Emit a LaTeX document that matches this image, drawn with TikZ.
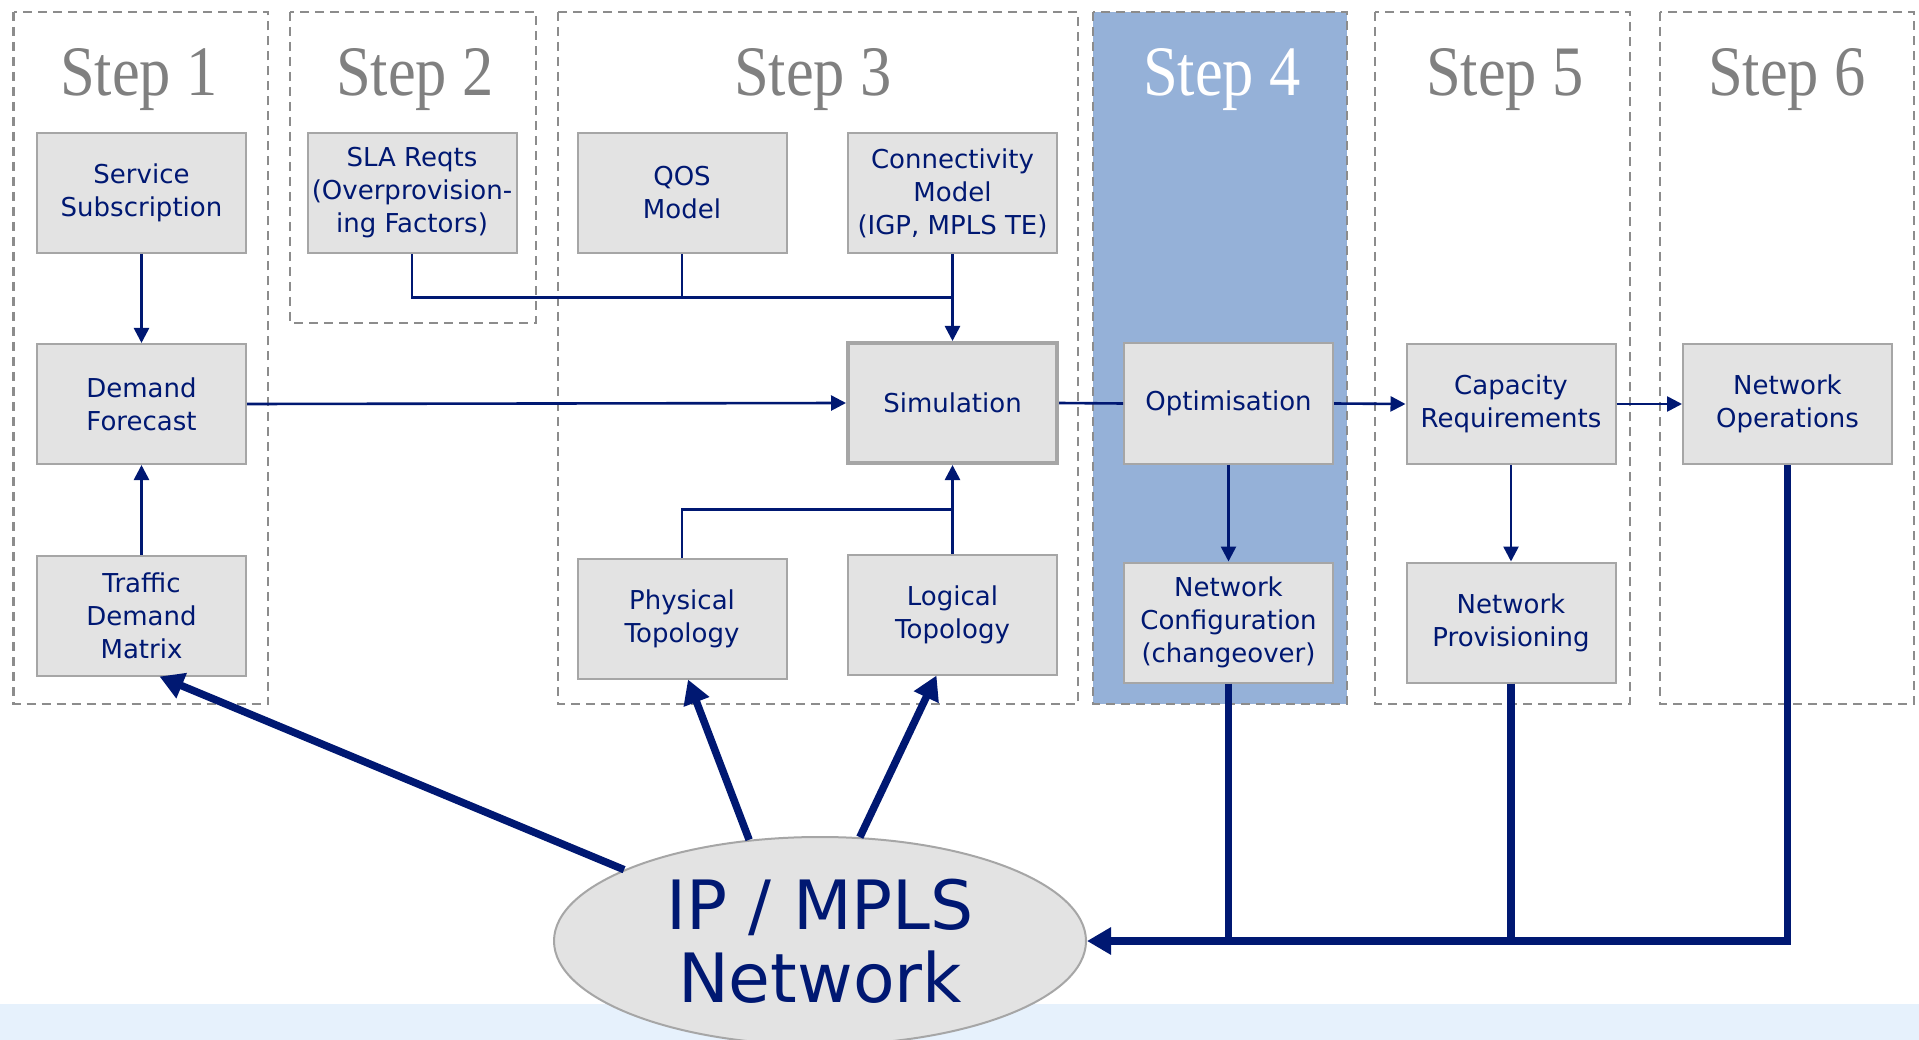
\documentclass[tikz,border=0pt]{standalone}
\usepackage{fontspec}
\usetikzlibrary{arrows.meta,calc,shapes.geometric}
\newfontfamily\boxfont{DejaVu Sans}
\newfontfamily\titlefont[FakeStretch=0.88]{Liberation Serif}
\definecolor{navy}{RGB}{0,24,114}
\definecolor{boxfill}{RGB}{227,227,227}
\definecolor{boxline}{RGB}{166,166,166}
\definecolor{dashgray}{RGB}{140,140,140}
\definecolor{titlegray}{RGB}{128,128,128}
\definecolor{stepblue}{RGB}{149,177,216}
\definecolor{bandblue}{RGB}{230,241,252}
\tikzset{
  procbox/.style={rectangle, draw=boxline, fill=boxfill, line width=2pt,
    minimum width=209pt, minimum height=120pt, inner sep=2pt, align=center,
    text=navy, font=\boxfont\fontsize{26}{33}\selectfont},
  stepframe/.style={draw=dashgray, line width=2.5pt, dash pattern=on 9pt off 6pt},
  steptitle/.style={anchor=base, text=titlegray, inner sep=0pt,
    font=\titlefont\fontsize{71}{76}\selectfont},
  thinline/.style={draw=navy, line width=2.6pt},
  thinarrow/.style={thinline, -{Triangle[length=15pt,width=15pt]}},
  thickline/.style={draw=navy, line width=7.5pt},
  thickarrow/.style={thickline, -{Triangle[length=24pt,width=26pt]}},
}
\begin{document}
\begin{tikzpicture}[x=1pt,y=-1pt]
\useasboundingbox (0,0) rectangle (1919,1040);
\fill[white] (0,0) rectangle (1919,1040);
% bottom band
\fill[bandblue] (0,1004) rectangle (1919,1040);
% step frames
\draw[stepframe] (13.5,12) rectangle (268,704);
\draw[stepframe] (290,12) rectangle (536,323);
\draw[stepframe] (558,12) rectangle (1078,704);
\draw[stepframe, fill=stepblue] (1093,12) rectangle (1347,704);
\draw[stepframe] (1375,12) rectangle (1630,704);
\draw[stepframe] (1660,12) rectangle (1914,704);
% titles
\node[steptitle] (t1) at (139,96) {Step 1};
\node[steptitle] (t2) at (415,96) {Step 2};
\node[steptitle] (t3) at (813,96) {Step 3};
\node[steptitle, text=white] (t4) at (1222,96) {Step 4};
\node[steptitle] (t5) at (1505,96) {Step 5};
\node[steptitle] (t6) at (1787,96) {Step 6};
% boxes
\node[procbox] (ss) at (141.5,193) {Service\\Subscription};
\node[procbox] (sla) at (412,193) {SLA Reqts\\(Overprovision-\\ing Factors)};
\node[procbox] (qos) at (682,193) {QOS\\Model};
\node[procbox] (conn) at (952.5,193) {Connectivity\\Model\\(IGP, MPLS TE)};
\node[procbox] (df) at (141.5,404) {Demand\\Forecast};
\node[procbox, line width=4pt] (sim) at (952.5,403) {Simulation};
\node[procbox] (opt) at (1228.5,403.5) {Optimisation};
\node[procbox] (cap) at (1511,404) {Capacity\\Requirements};
\node[procbox] (nops) at (1787.5,404) {Network\\Operations};
\node[procbox] (tdm) at (141.5,615.5) {Traffic\\Demand\\Matrix};
\node[procbox] (phy) at (682,618.5) {Physical\\Topology};
\node[procbox] (log) at (952.5,614.5) {Logical\\Topology};
\node[procbox] (ncfg) at (1228.5,622.5) {Network\\Configuration\\(changeover)};
\node[procbox] (nprov) at (1511,622.5) {Network\\Provisioning};
% ellipse
\node[ellipse, draw=boxline, fill=boxfill, line width=2pt, minimum width=532pt,
  minimum height=208pt, inner sep=0pt, align=center, text=navy,
  font=\boxfont\fontsize{68}{73}\selectfont] (ip) at (820,941) {IP / MPLS\\Network};
% thin connectors
\coordinate (j1) at ($(conn.south)!0.5!(sim.north)$);
\coordinate (j2) at ($(sim.south)!0.5!(log.north)$);
\draw[thinarrow] (ss.south) -- (df.north);
\draw[thinarrow] (tdm.north) -- (df.south);
\draw[thinarrow] (df.east) -- (sim.west);
\draw[thinline] (sla.south) |- (j1);
\draw[thinline] (qos.south) -- (qos.south |- j1);
\draw[thinarrow] (conn.south) -- (sim.north);
\draw[thinline] (phy.north) |- (j2);
\draw[thinarrow] (log.north) -- (sim.south);
\draw[thinline] (sim.east) -- (opt.west);
\draw[thinarrow] (opt.east) -- (cap.west);
\draw[thinarrow] (cap.east) -- (nops.west);
\draw[thinarrow] (opt.south) -- (ncfg.north);
\draw[thinarrow] (cap.south) -- (nprov.north);
% thick connectors
\draw[thickarrow] (nops.south) |- (ip.east);
\draw[thickline] (ncfg.south) -- (ncfg.south |- ip.east);
\draw[thickline] (nprov.south) -- (nprov.south |- ip.east);
\draw[thickarrow] (ip.160) -- ([xshift=18pt]tdm.south);
\draw[thickarrow] (ip.125) -- ([xshift=6pt]phy.south);
\draw[thickarrow] (ip.69) -- ([xshift=-16pt]log.south);
\end{tikzpicture}
\end{document}
